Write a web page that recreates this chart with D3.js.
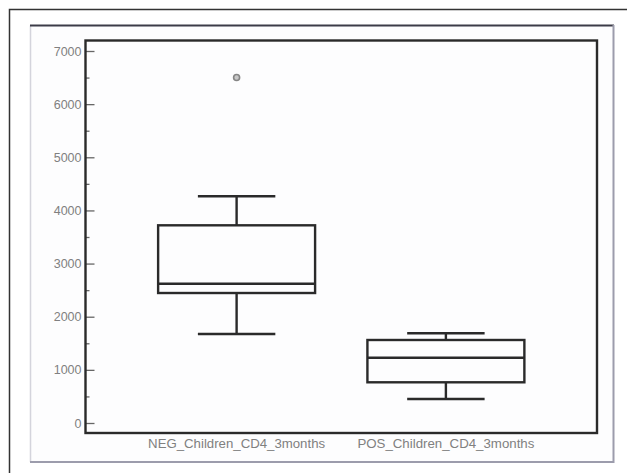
<!DOCTYPE html>
<html lang="en">
  <head>
    <meta charset="utf-8" />
    <title>CD4 box plot</title>
    <script src="https://cdn.jsdelivr.net/npm/d3@7"></script>
    <style type="text/css">
        body { margin:0; background:#fff; }
        text { font-family:"Liberation Sans", Arial, sans-serif; fill:#808080; }
    </style>
  </head>
  <body>
    <svg></svg>
  </body>
  <script type="text/javascript">

    var w = 627,
        h = 473;

    // values
    var categories = ['NEG_Children_CD4_3months', 'POS_Children_CD4_3months'];
    var whiskerLow  = [1675, 452];
    var q1          = [2446, 766];
    var median      = [2621, 1229];
    var q3          = [3720, 1562];
    var whiskerHigh = [4266, 1688];
    var outliers    = [[6500], []];
    var yTicks      = [0, 1000, 2000, 3000, 4000, 5000, 6000, 7000];
    var yMinorTicks = [500, 1500, 2500, 3500, 4500, 5500, 6500];

    var boxes = categories.map(function(c, i) {
        return { name: c, lo: whiskerLow[i], q1: q1[i], med: median[i],
                 q3: q3[i], hi: whiskerHigh[i], out: outliers[i] };
    });

    var plot = { left: 85.5, right: 597, top: 40.5, bottom: 433 };

    var svg = d3.select('svg')
                .attr('width', w)
                .attr('height', h);

    // outer page frame (only top and left visible)
    svg.append('path')
       .attr('d', 'M9.5,' + h + 'V9.5H' + w)
       .attr('fill', 'none')
       .attr('stroke', '#333')
       .attr('stroke-width', 1.5);

    // sunken panel
    svg.append('rect')
       .attr('x', 30).attr('y', 25)
       .attr('width', 584).attr('height', 437)
       .attr('fill', '#fdfdfe');
    svg.append('path')
       .attr('d', 'M30.5,462V25.5')
       .attr('stroke', '#d4d4dc').attr('stroke-width', 1.5).attr('fill', 'none');
    svg.append('path')
       .attr('d', 'M30,25.5H614')
       .attr('stroke', '#3c3c48').attr('stroke-width', 2).attr('fill', 'none');
    svg.append('path')
       .attr('d', 'M30,462H613.5V25')
       .attr('stroke', '#9c9cac').attr('stroke-width', 2).attr('fill', 'none');

    var xScale = d3.scalePoint()
                   .domain(categories)
                   .range([plot.left, plot.right])
                   .padding(0.722);
    var step = xScale.step();

    var yScale = d3.scaleLinear()
                   .domain([0, 7000])
                   .range([423, 51]);

    // y axis: ticks point into the plot, labels stay outside
    svg.append('g')
       .attr('transform', 'translate(' + plot.left + ',0)')
       .call(d3.axisLeft(yScale).tickValues(yMinorTicks).tickSize(-4).tickFormat(''))
       .call(function(g) { g.select('.domain').remove(); })
       .selectAll('line').attr('stroke', '#666').attr('stroke-width', 1.3);

    var yAxis = svg.append('g')
       .attr('transform', 'translate(' + plot.left + ',0)')
       .call(d3.axisLeft(yScale).tickValues(yTicks).tickSize(-9).tickPadding(4).tickFormat(d3.format('d')));
    yAxis.select('.domain').remove();
    yAxis.selectAll('line').attr('stroke', '#666').attr('stroke-width', 1.3);
    yAxis.selectAll('text')
         .attr('font-size', 12.5)
         .style('font-family', '"Liberation Sans", Arial, sans-serif')
         .attr('fill', '#808080');

    // plot frame
    svg.append('rect')
       .attr('x', plot.left).attr('y', plot.top)
       .attr('width', plot.right - plot.left)
       .attr('height', plot.bottom - plot.top)
       .attr('fill', 'none')
       .attr('stroke', '#2a2a2a')
       .attr('stroke-width', 2.4);

    var g = svg.selectAll('g.box')
               .data(boxes)
               .enter()
               .append('g')
               .attr('class', 'box')
               .attr('transform', function(d) { return 'translate(' + xScale(d.name) + ',0)'; });

    var boxW = step * 0.75,
        capW = step * 0.37,
        stroke = '#2a2a2a';

    // whisker stems
    g.append('line')
     .attr('x1', 0).attr('x2', 0)
     .attr('y1', function(d) { return yScale(d.hi); })
     .attr('y2', function(d) { return yScale(d.q3); })
     .attr('stroke', stroke).attr('stroke-width', 2.4);
    g.append('line')
     .attr('x1', 0).attr('x2', 0)
     .attr('y1', function(d) { return yScale(d.q1); })
     .attr('y2', function(d) { return yScale(d.lo); })
     .attr('stroke', stroke).attr('stroke-width', 2.4);

    // caps
    g.selectAll('line.cap')
     .data(function(d) { return [d.lo, d.hi]; })
     .enter()
     .append('line')
     .attr('class', 'cap')
     .attr('x1', -capW / 2).attr('x2', capW / 2)
     .attr('y1', function(v) { return yScale(v); })
     .attr('y2', function(v) { return yScale(v); })
     .attr('stroke', stroke).attr('stroke-width', 2.4);

    // box
    g.append('rect')
     .attr('x', -boxW / 2)
     .attr('width', boxW)
     .attr('y', function(d) { return yScale(d.q3); })
     .attr('height', function(d) { return yScale(d.q1) - yScale(d.q3); })
     .attr('fill', 'none')
     .attr('stroke', stroke).attr('stroke-width', 2.4);

    // median
    g.append('line')
     .attr('x1', -boxW / 2).attr('x2', boxW / 2)
     .attr('y1', function(d) { return yScale(d.med); })
     .attr('y2', function(d) { return yScale(d.med); })
     .attr('stroke', stroke).attr('stroke-width', 2.4);

    // outliers
    g.selectAll('circle')
     .data(function(d) { return d.out; })
     .enter()
     .append('circle')
     .attr('cx', 0)
     .attr('cy', function(v) { return yScale(v); })
     .attr('r', 3)
     .attr('fill', '#c8c8c8')
     .attr('stroke', '#858585')
     .attr('stroke-width', 1.6);

    // category labels
    svg.selectAll('text.cat')
       .data(categories)
       .enter()
       .append('text')
       .attr('class', 'cat')
       .attr('x', function(d) { return xScale(d); })
       .attr('y', 448)
       .attr('text-anchor', 'middle')
       .attr('font-size', 12)
       .attr('textLength', 177)
       .attr('lengthAdjust', 'spacingAndGlyphs')
       .text(function(d) { return d; });

    </script>
</html>
